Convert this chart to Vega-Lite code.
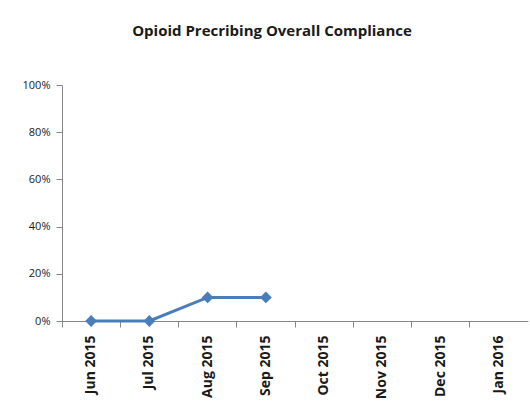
{
  "$schema": "https://vega.github.io/schema/vega-lite/v6.json",
  "autosize": "none",
  "width": 466,
  "height": 236,
  "padding": {"left": 62, "top": 85, "right": 2, "bottom": 87},
  "background": "white",
  "title": {
    "text": "Opioid Precribing Overall Compliance",
    "font": "Open Sans",
    "fontSize": 15,
    "fontWeight": "bold",
    "color": "#1a1a1a",
    "anchor": "middle",
    "dx": -23,
    "offset": 40
  },
  "config": {
    "view": {"stroke": null},
    "axis": {
      "domainColor": "#868686",
      "tickColor": "#868686",
      "grid": false,
      "labelFont": "Open Sans",
      "labelColor": "#1a1a1a",
      "labelFontWeight": "bold",
      "title": null
    }
  },
  "data": {
    "values": [
      {"month": "Jun 2015", "compliance": 0},
      {"month": "Jul 2015", "compliance": 0},
      {"month": "Aug 2015", "compliance": 0.1},
      {"month": "Sep 2015", "compliance": 0.1}
    ]
  },
  "mark": {
    "type": "line",
    "color": "#4a7ebb",
    "strokeWidth": 3,
    "point": {"shape": "diamond", "size": 140, "color": "#4a7ebb", "filled": true}
  },
  "encoding": {
    "x": {
      "field": "month",
      "type": "ordinal",
      "sort": null,
      "scale": {
        "domain": ["Jun 2015", "Jul 2015", "Aug 2015", "Sep 2015", "Oct 2015", "Nov 2015", "Dec 2015", "Jan 2016"],
        "type": "band",
        "paddingInner": 0,
        "paddingOuter": 0
      },
      "axis": {
        "labelAngle": -90,
        "labelFontSize": 14,
        "bandPosition": 0,
        "tickSize": 6,
        "labelPadding": 8,
        "labelBound": false
      }
    },
    "y": {
      "field": "compliance",
      "type": "quantitative",
      "scale": {"domain": [0, 1]},
      "axis": {
        "format": ".0%",
        "values": [0, 0.2, 0.4, 0.6, 0.8, 1],
        "tickSize": 6,
        "labelPadding": 6,
        "labelFontSize": 11,
        "labelFontWeight": "normal"
      }
    }
  }
}
